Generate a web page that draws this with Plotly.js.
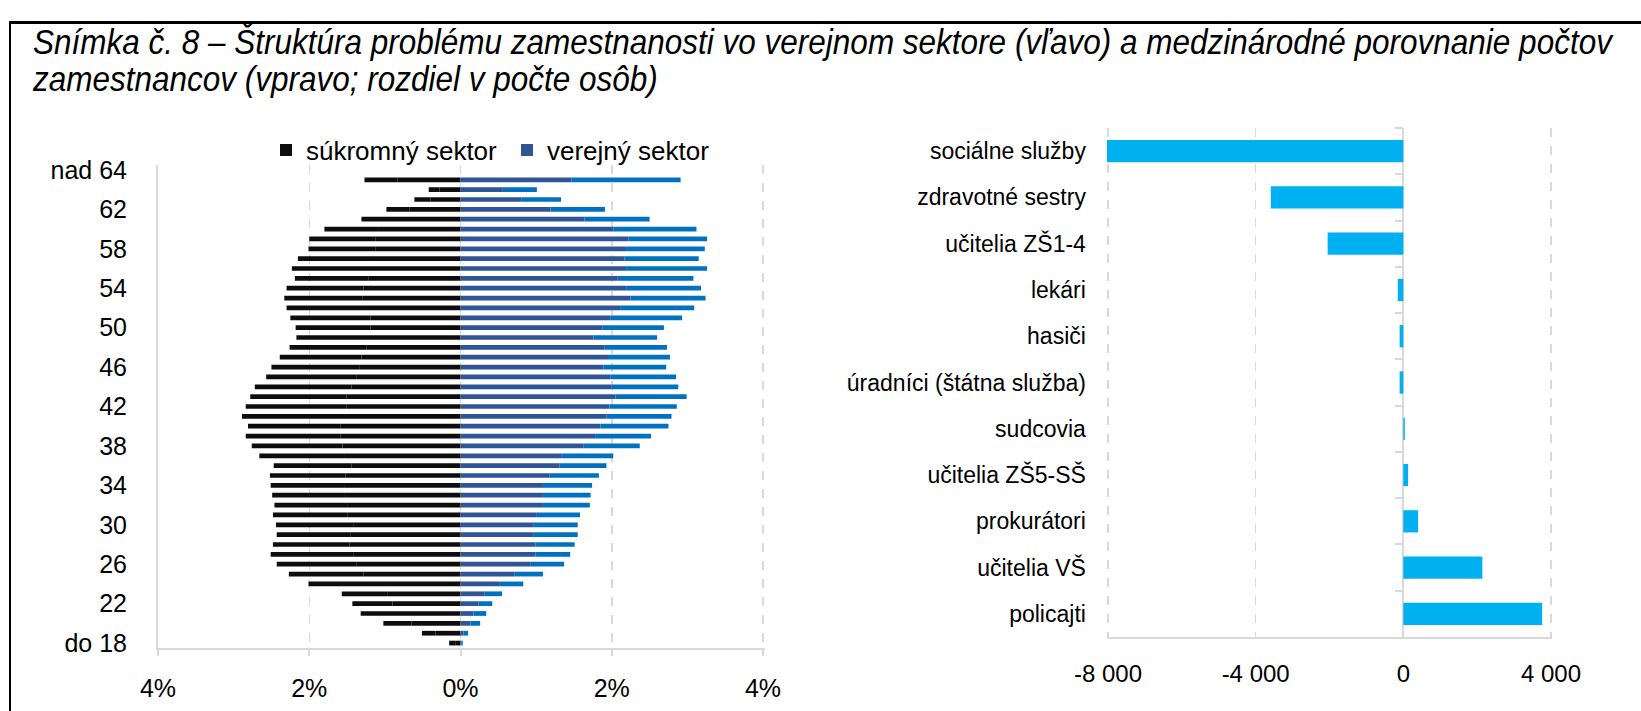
<!DOCTYPE html>
<html>
<head>
<meta charset="utf-8">
<script src="https://cdn.plot.ly/plotly-3.0.1.min.js"></script>
<style>
  html, body { margin: 0; padding: 0; background: #ffffff; }
  #chart { position: absolute; left: 0; top: 0; width: 1641px; height: 711px; }
  #frame { position: absolute; left: 9px; top: 21px; width: 1700px; height: 800px;
           border-top: 3px solid #000; border-left: 2px solid #000; pointer-events: none; }
  .ttl { position: absolute; left: 33px; white-space: nowrap; font-family: 'Liberation Sans', Arial, sans-serif;
         font-style: italic; font-size: 35px; line-height: 35px; height: 35px; color: #000; transform-origin: 0 50%; }
</style>
</head>
<body>
<div id="chart"></div>
<div id="frame"></div>
<div id="t1" class="ttl" style="top:24px"></div>
<div id="t2" class="ttl" style="top:61px"></div>
<script>
// ---------------- DATA ----------------
// Left chart: age categories, bottom to top
const ageCategories = ['do 18','19','20','21','22','23','24','25','26','27','28','29','30','31','32','33',
  '34','35','36','37','38','39','40','41','42','43','44','45','46','47','48','49','50','51','52','53',
  '54','55','56','57','58','59','60','61','62','63','64','nad 64'];
// private sector (share of employees, %), two stacked parts
const privateInner = [0.07,0.33,0.65,0.80,0.90,0.97,1.17,1.28,1.38,1.41,1.47,1.45,1.41,1.49,1.50,1.54,
  1.54,1.52,1.44,1.54,1.56,1.59,1.59,1.58,1.51,1.51,1.44,1.37,1.34,1.31,1.24,1.17,1.19,1.19,1.25,1.30,
  1.28,1.22,1.25,1.17,1.12,1.12,1.09,0.80,0.67,0.40,0.28,0.83];
const privateOuter = [0.08,0.18,0.37,0.52,0.53,0.60,0.84,0.99,1.05,1.10,1.01,0.98,1.03,0.99,0.96,0.95,
  0.97,1.00,1.03,1.12,1.20,1.25,1.22,1.31,1.33,1.27,1.28,1.20,1.16,1.08,1.02,1.00,0.99,1.06,1.05,1.03,
  1.02,0.97,0.98,0.98,0.89,0.88,0.71,0.51,0.31,0.21,0.14,0.44];
// public sector (share of employees, %), two stacked parts
const publicInner = [0.01,0.04,0.13,0.17,0.24,0.32,0.52,0.71,0.93,0.99,0.99,0.96,0.97,1.00,1.09,1.09,
  1.09,1.18,1.31,1.34,1.63,1.78,1.85,1.93,1.97,2.05,2.00,1.98,1.89,1.95,1.90,1.76,1.88,1.98,2.11,2.25,
  2.19,2.08,2.19,2.17,2.20,2.22,2.02,1.64,1.19,0.81,0.56,1.47];
const publicOuter = [0.02,0.06,0.13,0.17,0.18,0.23,0.31,0.38,0.44,0.46,0.52,0.59,0.58,0.58,0.62,0.63,
  0.65,0.65,0.62,0.68,0.74,0.74,0.90,0.86,0.89,0.94,0.88,0.87,0.83,0.82,0.83,0.84,0.81,0.95,0.98,0.99,
  0.99,1.00,1.07,0.98,1.03,1.04,1.10,0.86,0.72,0.52,0.45,1.44];
const ageTickPositions = [0,4,8,12,16,20,24,28,32,36,40,44,48];
const ageTickLabels = ['do 18','22','26','30','34','38','42','46','50','54','58','62','nad 64'];
const pctTickValues = [-4,-2,0,2,4];
const pctTickLabels = ['4%','2%','0%','2%','4%'];
const seriesNames = ['súkromný sektor','verejný sektor'];

// Right chart: difference in number of persons
const professions = ['sociálne služby','zdravotné sestry','učitelia ZŠ1-4','lekári','hasiči',
  'úradníci (štátna služba)','sudcovia','učitelia ZŠ5-SŠ','prokurátori','učitelia VŠ','policajti'];
const diffValues = [-8030,-3590,-2050,-150,-100,-100,40,130,400,2140,3760];
const diffTickValues = [-8000,-4000,0,4000];
const diffTickLabels = ['-8 000','-4 000','0','4 000'];

const titleLines = ['Snímka č. 8 – Štruktúra problému zamestnanosti vo verejnom sektore (vľavo) a medzinárodné porovnanie počtov',
  'zamestnancov (vpravo; rozdiel v počte osôb)'];

// ---------------- TITLE (condensed italic, real text) ----------------
const t1 = document.getElementById('t1'), t2 = document.getElementById('t2');
t1.textContent = titleLines[0];
t2.textContent = titleLines[1];
const squeeze = 1579 / t1.scrollWidth;
t1.style.transform = 'scaleX(' + squeeze + ')';
t2.style.transform = 'scaleX(' + squeeze + ')';

// ---------------- LAYOUT ----------------
const W = 1641, H = 711;
const px = v => v / W;
const py = v => 1 - v / H;
const FONT = 'Liberation Sans, Arial, sans-serif';
const GRID = '#d9d9d9';

const pctRange = [-4, 4.03];
const leftX = [px(158), px(158 + (763 - 158) * (pctRange[1] - pctRange[0]) / 8)];
const leftY = [py(648), py(165)];
const diffRange = [-8030, 4030];
const unit = (1551 - 1108) / 12000;
const rightX = [px(1108 - 30 * unit), px(1551 + 30 * unit)];
const rightY = [py(637), py(128)];
const zeroPos = rightX[0] + (0 - diffRange[0]) / (diffRange[1] - diffRange[0]) * (rightX[1] - rightX[0]);

const yPos = ageCategories.map((_, i) => i);
const neg = arr => arr.map(v => -v);

const traces = [
  { type: 'bar', orientation: 'h', name: seriesNames[0], x: neg(privateInner), y: yPos,
    customdata: ageCategories, hovertemplate: '%{customdata}: %{x}<extra></extra>',
    marker: { color: '#0d0d0d' }, xaxis: 'x', yaxis: 'y' },
  { type: 'bar', orientation: 'h', name: seriesNames[0], x: neg(privateOuter), y: yPos, showlegend: false,
    customdata: ageCategories, hovertemplate: '%{customdata}: %{x}<extra></extra>',
    marker: { color: '#0d0d0d' }, xaxis: 'x', yaxis: 'y' },
  { type: 'bar', orientation: 'h', name: seriesNames[1], x: publicInner, y: yPos,
    customdata: ageCategories, hovertemplate: '%{customdata}: %{x}<extra></extra>',
    marker: { color: '#2f5597' }, xaxis: 'x', yaxis: 'y' },
  { type: 'bar', orientation: 'h', name: seriesNames[1], x: publicOuter, y: yPos, showlegend: false,
    customdata: ageCategories, hovertemplate: '%{customdata}: %{x}<extra></extra>',
    marker: { color: '#0070c0' }, xaxis: 'x', yaxis: 'y' },
  { type: 'bar', orientation: 'h', x: diffValues, y: professions, showlegend: false,
    marker: { color: '#00b0f0' }, xaxis: 'x2', yaxis: 'y2' },
  { type: 'bar', orientation: 'h', x: diffValues, y: professions, showlegend: false, hoverinfo: 'skip',
    marker: { color: 'rgba(0,0,0,0)' }, xaxis: 'x2', yaxis: 'y3' }
];

const layout = {
  width: W, height: H,
  margin: { l: 0, r: 0, t: 0, b: 0, pad: 0 },
  paper_bgcolor: 'rgba(0,0,0,0)', plot_bgcolor: 'rgba(0,0,0,0)',
  barmode: 'relative', bargap: 0.52,
  font: { family: FONT, color: '#000000', size: 24 },
  showlegend: true,
  legend: { orientation: 'h', x: px(266), xanchor: 'left', y: py(150), yanchor: 'middle',
            font: { family: FONT, size: 26, color: '#000' }, bgcolor: 'rgba(0,0,0,0)', itemwidth: 30,
            entrywidth: 196, entrywidthmode: 'pixels', traceorder: 'normal' },
  xaxis: { domain: leftX, anchor: 'y', range: pctRange, tickmode: 'array', tickvals: pctTickValues,
           ticktext: pctTickLabels, showgrid: true, gridcolor: GRID, griddash: 'dash', gridwidth: 1.5,
           zeroline: false, showline: true, linecolor: GRID, linewidth: 2, ticks: 'outside', ticklen: 6,
           tickwidth: 2, tickcolor: GRID, ticklabelstandoff: 11, tickfont: { size: 25 }, fixedrange: true },
  yaxis: { domain: leftY, anchor: 'x', range: [-0.5, 48.5], tickmode: 'array', tickvals: ageTickPositions,
           ticktext: ageTickLabels, showgrid: false, zeroline: false, showline: true, linecolor: GRID,
           linewidth: 2, ticks: '', ticklabelstandoff: 24, tickfont: { size: 25 }, fixedrange: true },
  xaxis2: { domain: rightX, anchor: 'y2', range: diffRange, tickmode: 'array', tickvals: diffTickValues,
            ticktext: diffTickLabels, showgrid: true, gridcolor: GRID, griddash: 'dash', gridwidth: 1.5,
            zeroline: true, zerolinecolor: GRID, zerolinewidth: 2, showline: true, linecolor: GRID,
            linewidth: 2, ticks: '', ticklabelstandoff: 14, tickfont: { size: 24 }, fixedrange: true },
  yaxis2: { domain: rightY, anchor: 'x2', type: 'category', autorange: 'reversed', showgrid: false,
            zeroline: false, showline: false, ticks: '', ticklabelstandoff: 20, tickfont: { size: 23 },
            fixedrange: true },
  yaxis3: { domain: rightY, overlaying: 'y2', anchor: 'free', position: zeroPos, side: 'left',
            type: 'category', autorange: 'reversed', showgrid: false, zeroline: false, showline: false,
            ticks: 'outside', tickson: 'boundaries', ticklen: 8, tickwidth: 2, tickcolor: GRID,
            showticklabels: false, fixedrange: true }
};

Plotly.newPlot('chart', traces, layout, { displayModeBar: false, staticPlot: true });
</script>
</body>
</html>
